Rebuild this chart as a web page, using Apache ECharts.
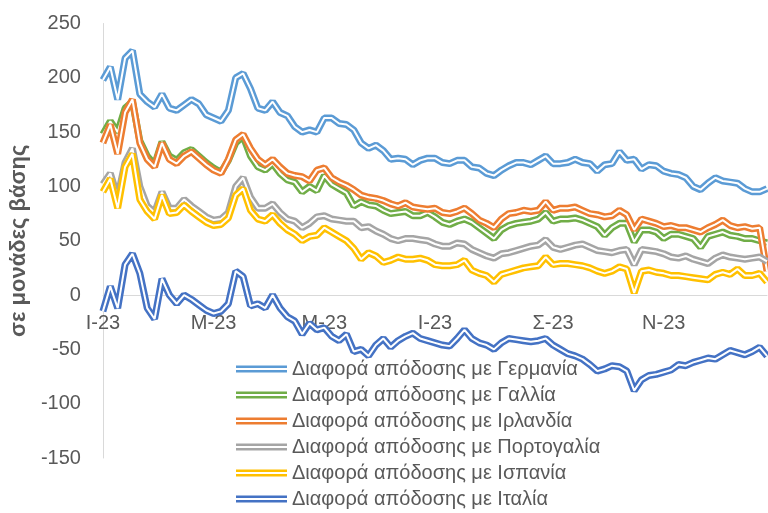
<!DOCTYPE html>
<html>
<head>
<meta charset="utf-8">
<script src="https://cdn.jsdelivr.net/npm/echarts@6/dist/echarts.min.js"></script>
<style>
html,body{margin:0;padding:0;background:#fff;}
#chart{width:768px;height:513px;}
</style>
</head>
<body>
<div id="chart"></div>
<script>
const xTickLabels = ['I-23','M-23','M-23','I-23','Σ-23','N-23'];
const xTickIndex = [0,15,30,45,61,76];
const seriesNames = [
  'Διαφορά απόδοσης με Γερμανία',
  'Διαφορά απόδοσης με Γαλλία',
  'Διαφορά απόδοσης με Ιρλανδία',
  'Διαφορά απόδοσης με Πορτογαλία',
  'Διαφορά απόδοσης με Ισπανία',
  'Διαφορά απόδοσης με Ιταλία'
];
const germany = [198,210,180,218,225,185,178,173,185,172,170,175,180,176,166,163,160,170,200,204,
  190,172,170,178,168,165,155,150,152,150,163,163,158,157,152,140,135,138,133,125,
  126,125,120,124,126,126,122,121,124,124,118,117,112,110,115,119,122,122,120,124,
  128,121,121,122,125,122,121,114,120,121,132,124,125,116,120,119,114,112,111,108,
  100,97,103,108,105,104,103,98,95,95,98];
const france = [148,160,150,172,178,142,128,120,141,128,124,131,134,128,122,117,113,124,140,146,
  128,118,115,121,112,106,104,95,100,96,110,102,98,94,82,86,83,82,78,75,
  76,77,73,73,76,72,67,65,68,70,67,62,57,52,60,64,66,67,68,70,
  76,68,70,70,71,69,66,63,55,62,66,66,49,60,60,58,52,56,56,54,
  52,44,54,56,58,55,54,52,52,50,48];
const ireland = [140,157,130,168,180,140,125,118,140,125,121,128,132,126,120,115,112,125,143,148,
  135,125,120,125,118,112,110,109,105,115,117,108,104,101,97,92,90,89,87,84,
  82,85,81,80,79,80,76,75,77,80,75,69,66,62,70,75,76,78,77,78,
  86,78,80,80,81,78,75,74,72,73,78,74,60,70,68,66,63,64,62,62,
  60,58,62,65,69,64,62,63,61,62,22];
const portugal = [102,112,90,122,135,100,82,76,95,80,80,88,82,77,72,69,70,76,100,108,
  90,80,80,84,76,70,68,62,66,72,73,70,69,68,68,62,63,59,56,52,
  50,52,52,51,50,47,45,45,48,47,42,39,36,34,38,39,41,43,45,46,
  51,44,42,44,46,47,44,41,40,39,41,42,28,42,41,40,38,35,34,36,
  33,31,29,34,37,35,34,33,34,35,31];
const spain = [95,107,80,118,130,88,77,70,92,75,76,83,77,72,67,64,65,71,92,98,
  78,70,68,74,66,60,56,50,54,55,62,58,54,50,43,33,39,36,30,32,
  35,33,33,34,32,28,27,27,28,32,23,20,18,12,19,21,23,25,26,27,
  35,28,29,29,28,27,25,22,20,22,26,24,2,22,23,21,20,18,18,17,
  16,15,14,19,21,19,24,18,18,20,12];
const italy = [-15,8,-12,28,38,20,-12,-22,15,0,-8,0,-4,-9,-14,-17,-15,-8,22,17,
  -10,-8,-12,0,-12,-20,-24,-36,-26,-32,-30,-38,-42,-36,-52,-50,-56,-46,-40,-48,
  -42,-38,-35,-40,-42,-44,-46,-47,-40,-32,-40,-44,-46,-50,-44,-40,-41,-42,-43,-42,
  -40,-46,-50,-54,-56,-59,-64,-70,-68,-65,-66,-70,-88,-78,-74,-73,-71,-69,-64,-65,
  -62,-60,-58,-59,-55,-51,-53,-55,-52,-48,-56];
const yTicks = {min:-150, max:250, interval:50};

const colors = ['#5B9BD5','#70AD47','#ED7D31','#A5A5A5','#FFC000','#4472C4'];
const allData = [germany, france, ireland, portugal, spain, italy];
const categories = germany.map((_, i) => String(i));
const labelAt = {};
xTickIndex.forEach((idx, k) => { labelAt[idx] = xTickLabels[k]; });

const series = [];
allData.forEach((d, k) => {
  series.push({
    name: seriesNames[k], type: 'line', data: d, symbol: 'none',
    lineStyle: {color: colors[k], width: 7}, itemStyle: {color: colors[k]},
    silent: true, animation: false
  });
  series.push({
    name: 'w' + k, type: 'line', data: d, symbol: 'none',
    lineStyle: {color: '#ffffff', width: 2}, itemStyle: {color: '#ffffff'},
    silent: true, animation: false
  });
});

const gridTop = 23.5, gridBottom = 55, H = 513;
const plotH = H - gridTop - gridBottom;
const zeroOffset = plotH * (0 - yTicks.min) / (yTicks.max - yTicks.min);

const font = 'Liberation Sans, Arial, sans-serif';
const chart = echarts.init(document.getElementById('chart'), null, {renderer: 'canvas'});
chart.setOption({
  animation: false,
  backgroundColor: '#ffffff',
  grid: {left: 99, right: 1, top: gridTop, bottom: gridBottom, containLabel: false},
  xAxis: {
    type: 'category', data: categories, boundaryGap: false,
    offset: -zeroOffset,
    axisLine: {onZero: false, lineStyle: {color: '#d9d9d9', width: 1}},
    axisTick: {show: false},
    axisLabel: {
      interval: (i) => labelAt[i] !== undefined,
      formatter: (v, i) => labelAt[i] || '',
      color: '#595959', fontSize: 20, fontFamily: font, margin: 18
    },
    splitLine: {show: false}
  },
  yAxis: {
    type: 'value', min: yTicks.min, max: yTicks.max, interval: yTicks.interval,
    axisLine: {show: true, lineStyle: {color: '#d9d9d9', width: 1}},
    axisTick: {show: false},
    splitLine: {show: false},
    axisLabel: {color: '#595959', fontSize: 20, fontFamily: font, margin: 22},
    name: 'σε μονάδες βάσης', nameLocation: 'middle', nameRotate: 90, nameGap: 62,
    nameTextStyle: {color: '#595959', fontSize: 22, fontWeight: 'bold', fontFamily: font}
  },
  legend: {
    data: seriesNames, orient: 'vertical', left: 236, top: 359, padding: 0,
    icon: 'path://M0,0H51V2.6H0Z M0,4.4H51V7H0Z',
    itemWidth: 51, itemHeight: 7, itemGap: 6,
    textStyle: {color: '#595959', fontSize: 20, fontFamily: font},
    selectedMode: false
  },
  series: series
});
</script>
</body>
</html>
